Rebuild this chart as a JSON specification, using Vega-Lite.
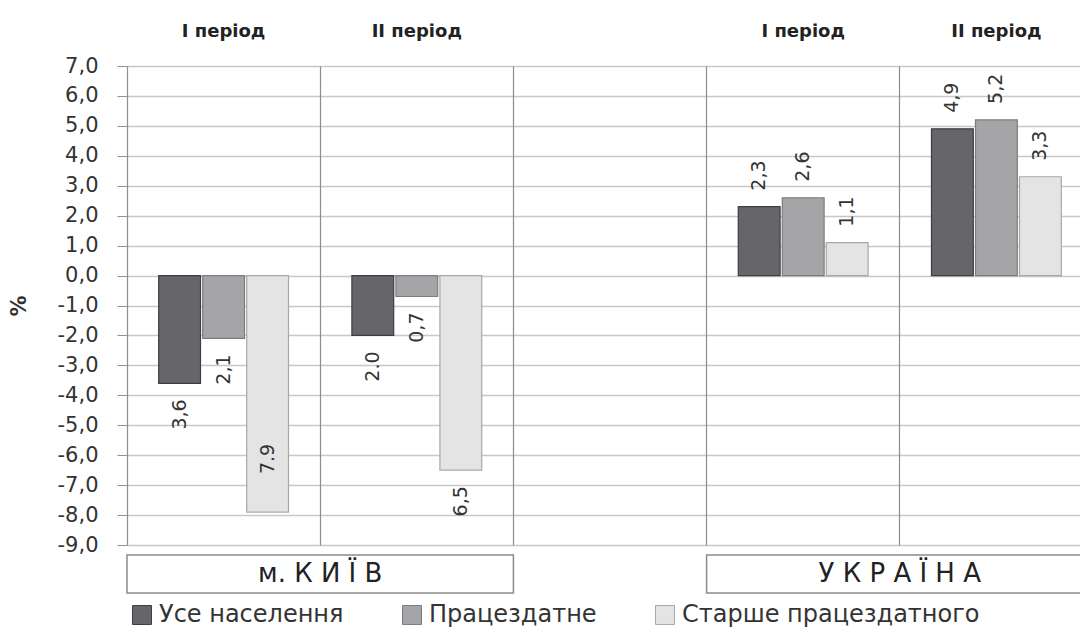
{
  "$schema": "https://vega.github.io/schema/vega-lite/v6.json",
  "width": 953,
  "height": 479,
  "autosize": {"type": "none"},
  "padding": {"left": 127, "top": 66, "right": 0, "bottom": 83},
  "background": "white",
  "config": {"font": "DejaVu Sans", "view": {"stroke": null}},
  "datasets": {
    "bars": [
      {"slot": "k1", "group": "Усе населення", "value": -3.6, "label": "3,6"},
      {"slot": "k1", "group": "Працездатне", "value": -2.1, "label": "2,1"},
      {"slot": "k1", "group": "Старше працездатного", "value": -7.9, "label": "7.9"},
      {"slot": "k2", "group": "Усе населення", "value": -2.0, "label": "2.0"},
      {"slot": "k2", "group": "Працездатне", "value": -0.7, "label": "0,7"},
      {"slot": "k2", "group": "Старше працездатного", "value": -6.5, "label": "6,5"},
      {"slot": "u1", "group": "Усе населення", "value": 2.3, "label": "2,3"},
      {"slot": "u1", "group": "Працездатне", "value": 2.6, "label": "2,6"},
      {"slot": "u1", "group": "Старше працездатного", "value": 1.1, "label": "1,1"},
      {"slot": "u2", "group": "Усе населення", "value": 4.9, "label": "4,9"},
      {"slot": "u2", "group": "Працездатне", "value": 5.2, "label": "5,2"},
      {"slot": "u2", "group": "Старше працездатного", "value": 3.3, "label": "3,3"}
    ],
    "regions": [
      {"region": "м. К И Ї В", "from": "k1", "to": "k2"},
      {"region": "У К Р А Ї Н А", "from": "u1", "to": "u2"}
    ]
  },
  "resolve": {"axis": {"x": "independent"}},
  "layer": [
    {
      "data": {"name": "regions"},
      "mark": {"type": "rect", "fill": "white", "stroke": "#8c8c8c", "strokeWidth": 1.5},
      "encoding": {
        "x": {
          "field": "from", "type": "nominal", "bandPosition": 0,
          "scale": {"domain": ["k1", "k2", "gap", "u1", "u2"], "range": [0, 966], "paddingInner": 0, "paddingOuter": 0},
          "axis": {"orient": "bottom", "title": null, "labels": false, "ticks": false, "domain": false, "grid": true, "bandPosition": 1, "gridColor": "#8c8c8c", "gridWidth": 1.2}
        },
        "x2": {"field": "to", "bandPosition": 1},
        "y": {
          "datum": -9.33, "type": "quantitative",
          "scale": {"domain": [-9, 7], "nice": false, "zero": false},
          "axis": {
            "values": [-9, -8, -7, -6, -5, -4, -3, -2, -1, 0, 1, 2, 3, 4, 5, 6, 7],
            "tickCount": 20,
            "labelExpr": "replace((datum.value<0?'-':'') + format(abs(datum.value),'.1f'), '.', ',')",
            "labelOverlap": false,
            "labelFontSize": 21, "labelColor": "#333", "labelPadding": 19,
            "tickSize": 10, "tickColor": "#909090", "domainColor": "#909090", "domainWidth": 1.2,
            "grid": true, "gridColor": "#c8c8c8", "gridWidth": 1.5,
            "title": "%", "titleFontSize": 21, "titleFontWeight": "bold", "titleColor": "#333", "titlePadding": 28
          }
        },
        "y2": {"datum": -10.6}
      }
    },
    {
      "data": {"name": "regions"},
      "mark": {"type": "text", "fontSize": 26, "color": "#222", "baseline": "middle", "align": "center"},
      "encoding": {
        "x": {"field": "from", "type": "nominal", "bandPosition": 1, "axis": null},
        "y": {"datum": -9.97, "type": "quantitative"},
        "text": {"field": "region"}
      }
    },
    {
      "mark": {"type": "rule", "color": "#8c8c8c", "strokeWidth": 1.2},
      "encoding": {"y": {"datum": 0, "type": "quantitative"}}
    },
    {
      "data": {"name": "bars"},
      "mark": {"type": "bar", "strokeWidth": 1.2},
      "encoding": {
        "x": {
          "field": "slot", "type": "nominal",
          "scale": {"domain": ["k1", "k2", "gap", "u1", "u2"], "range": [0, 966], "paddingInner": 0, "paddingOuter": 0},
          "axis": {
            "orient": "top", "title": null, "labelAngle": 0, "ticks": false, "domain": false, "grid": false,
            "labelExpr": "datum.value=='k1'||datum.value=='u1' ? 'I період' : (datum.value=='k2'||datum.value=='u2' ? 'II період' : '')",
            "labelFontSize": 18, "labelFontWeight": "bold", "labelColor": "#222", "labelPadding": 26
          }
        },
        "xOffset": {
          "field": "group", "type": "nominal",
          "scale": {"domain": ["Усе населення", "Працездатне", "Старше працездатного"], "paddingInner": 0.05, "paddingOuter": 0.72}
        },
        "y": {"field": "value", "type": "quantitative"},
        "color": {
          "field": "group", "type": "nominal",
          "scale": {"domain": ["Усе населення", "Працездатне", "Старше працездатного"], "range": ["#66666a", "#a5a5a8", "#e4e4e4"]},
          "legend": {
            "orient": "none", "legendX": 3, "legendY": 537, "direction": "horizontal", "title": null,
            "symbolType": "square", "symbolSize": 360, "symbolStrokeColor": "#666", "symbolStrokeWidth": 1,
            "labelFontSize": 24, "labelColor": "#333", "columnPadding": 56, "labelOffset": 5, "labelLimit": 500
          }
        },
        "stroke": {
          "field": "group", "type": "nominal",
          "scale": {"domain": ["Усе населення", "Працездатне", "Старше працездатного"], "range": ["#3e3e42", "#7c7c80", "#a8a8a8"]},
          "legend": null
        }
      }
    },
    {
      "data": {"name": "bars"},
      "transform": [{"filter": "datum.value > 0"}],
      "mark": {"type": "text", "angle": 270, "align": "left", "baseline": "middle", "dx": 16, "fontSize": 19, "color": "#333"},
      "encoding": {
        "x": {"field": "slot", "type": "nominal", "axis": null},
        "xOffset": {"field": "group", "type": "nominal"},
        "y": {"field": "value", "type": "quantitative"},
        "text": {"field": "label"}
      }
    },
    {
      "data": {"name": "bars"},
      "transform": [{"filter": "datum.value < 0 && datum.value > -7"}],
      "mark": {"type": "text", "angle": 270, "align": "right", "baseline": "middle", "dx": -16, "fontSize": 19, "color": "#333"},
      "encoding": {
        "x": {"field": "slot", "type": "nominal", "axis": null},
        "xOffset": {"field": "group", "type": "nominal"},
        "y": {"field": "value", "type": "quantitative"},
        "text": {"field": "label"}
      }
    },
    {
      "data": {"name": "bars"},
      "transform": [{"filter": "datum.value <= -7"}],
      "mark": {"type": "text", "angle": 270, "align": "left", "baseline": "middle", "dx": 38, "fontSize": 19, "color": "#333"},
      "encoding": {
        "x": {"field": "slot", "type": "nominal", "axis": null},
        "xOffset": {"field": "group", "type": "nominal"},
        "y": {"field": "value", "type": "quantitative"},
        "text": {"field": "label"}
      }
    }
  ]
}
